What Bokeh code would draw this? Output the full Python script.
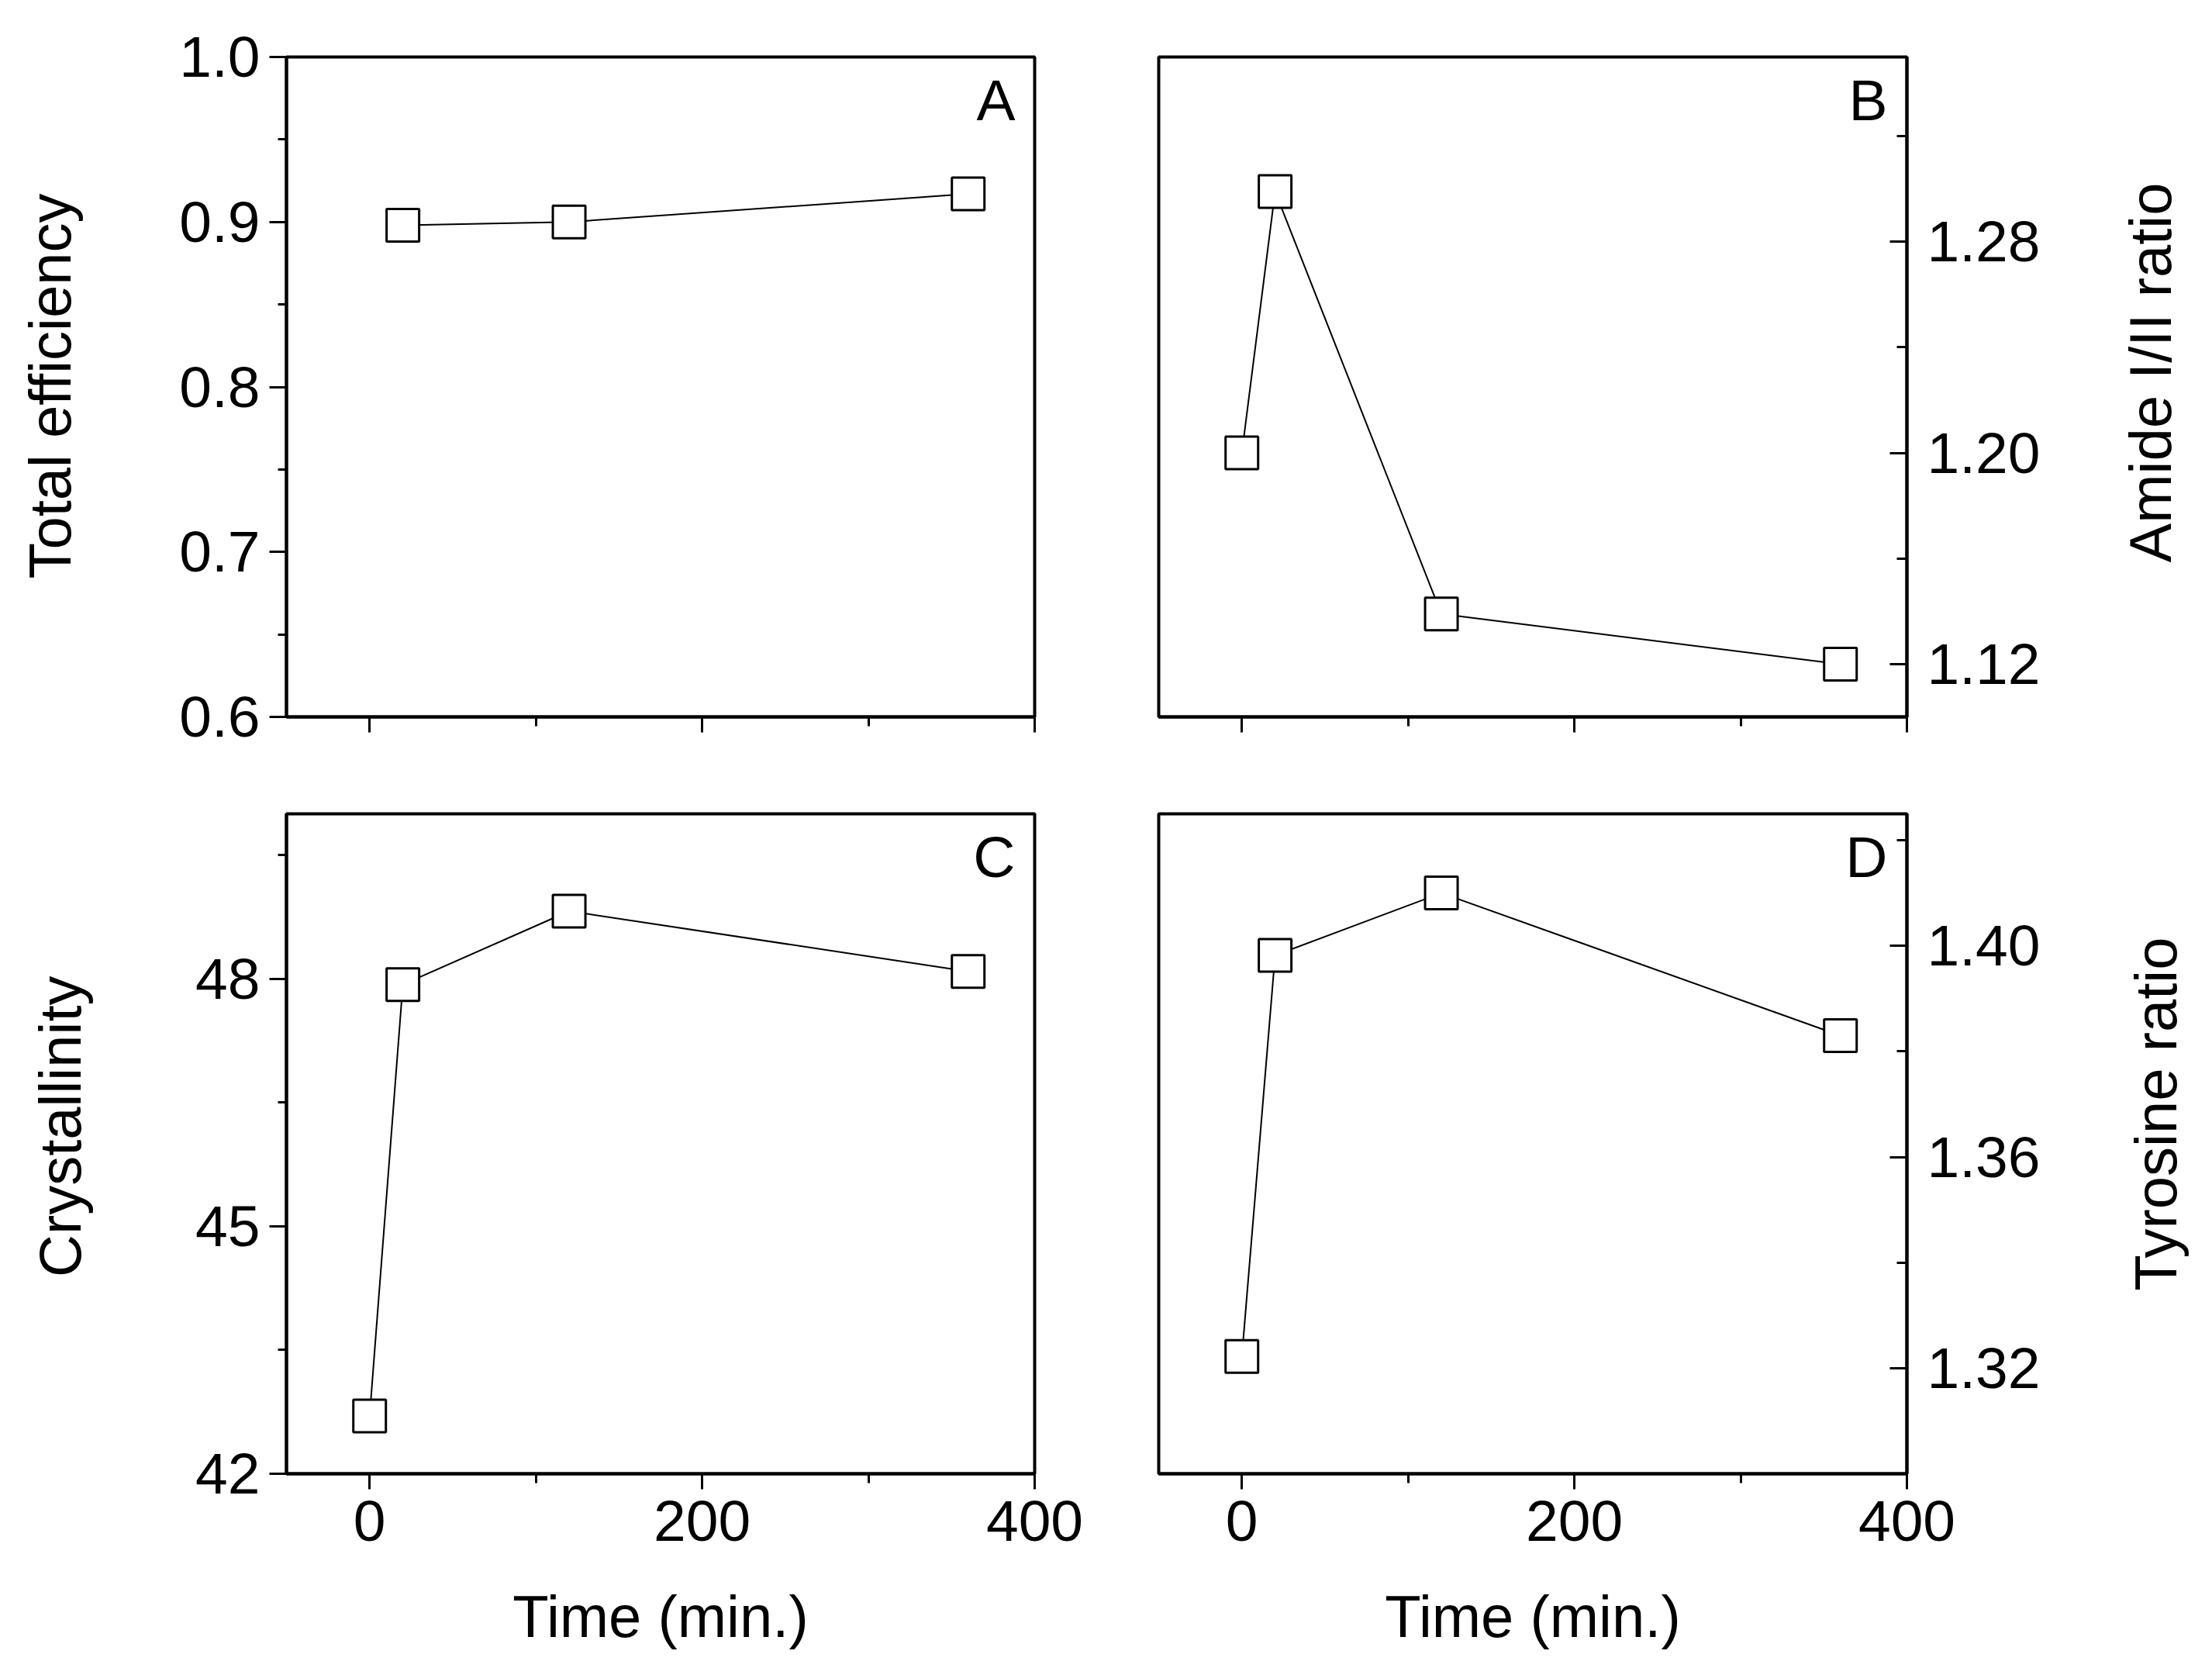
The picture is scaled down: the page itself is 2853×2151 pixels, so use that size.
import math
from bokeh.plotting import figure
from bokeh.layouts import column, row
from bokeh.models import (Range1d, FixedTicker, Label, Title, PrintfTickFormatter,
                          CustomJSTickFormatter)
from bokeh.embed import file_html
from bokeh.resources import INLINE

# ---------------- data ----------------
time_a = [20, 120, 360]
efficiency = [0.898, 0.900, 0.917]

time_bcd = [0, 20, 120, 360]
amide_ratio = [1.200, 1.299, 1.139, 1.120]
crystallinity = [42.70, 47.93, 48.82, 48.09]
tyrosine_ratio = [1.3222, 1.3982, 1.4100, 1.3830]

x_major = [0, 200, 400]
x_minor = [100, 300]
a_major = [0.6, 0.7, 0.8, 0.9, 1.0]
a_minor = [0.65, 0.75, 0.85, 0.95]
b_major = [1.12, 1.20, 1.28]
b_minor = [1.16, 1.24, 1.32]
c_major = [42, 45, 48]
c_minor = [43.5, 46.5, 49.5]
d_major = [1.32, 1.36, 1.40]
d_minor = [1.30, 1.34, 1.38, 1.42]

FONT = "Liberation Sans"
FW, FH = 965, 851
TICK_FS = "75px"
TITLE_FS = "76px"


def make_panel(xs, ys, yr, ymaj, ymin, yfmt, yloc, letter,
               show_x_labels, borders):
    bl, br, bt, bb = borders
    p = figure(frame_width=FW, frame_height=FH,
               x_range=Range1d(-50, 400), y_range=Range1d(*yr),
               y_axis_location=yloc, toolbar_location=None,
               output_backend="svg",
               min_border_left=bl, min_border_right=br,
               min_border_top=bt, min_border_bottom=bb)
    p.background_fill_color = "white"
    p.border_fill_color = "white"
    p.outline_line_color = "black"
    p.outline_line_width = 4
    p.xgrid.visible = False
    p.ygrid.visible = False

    xa = p.xaxis[0]
    xa.ticker = FixedTicker(ticks=x_major, minor_ticks=x_minor)
    xa.axis_line_width = 4
    xa.major_tick_line_width = 3
    xa.minor_tick_line_width = 3
    xa.major_tick_out = 20
    xa.major_tick_in = 0
    xa.minor_tick_out = 12
    xa.minor_tick_in = 0
    xa.major_label_text_font = FONT
    xa.major_label_text_color = "black"
    xa.major_label_text_font_size = TICK_FS
    if show_x_labels:
        xa.formatter = PrintfTickFormatter(format="%d")
        xa.major_label_standoff = 15
        xa.axis_label = "Time (min.)"
        xa.axis_label_text_font = FONT
        xa.axis_label_text_font_size = TITLE_FS
        xa.axis_label_text_font_style = "normal"
        xa.axis_label_text_color = "black"
        xa.axis_label_standoff = 52
    else:
        xa.formatter = CustomJSTickFormatter(code="return ''")
        xa.major_label_standoff = 0

    ya = p.yaxis[0]
    ya.ticker = FixedTicker(ticks=ymaj, minor_ticks=ymin)
    ya.formatter = PrintfTickFormatter(format=yfmt)
    ya.axis_line_width = 4
    ya.major_tick_line_width = 3
    ya.minor_tick_line_width = 3
    if yloc == "left":
        ya.major_tick_out = 22
        ya.major_tick_in = 0
        ya.minor_tick_out = 11
        ya.minor_tick_in = 0
        ya.major_label_standoff = 12
    else:
        ya.major_tick_out = 0
        ya.major_tick_in = 22
        ya.minor_tick_out = 0
        ya.minor_tick_in = 13
        ya.major_label_standoff = 26
    ya.major_label_text_font = FONT
    ya.major_label_text_font_size = TICK_FS
    ya.major_label_text_color = "black"

    p.line(xs, ys, line_color="black", line_width=2)
    p.scatter(xs, ys, marker="square", size=42, fill_color="white",
              line_color="black", line_width=3)

    p.add_layout(Label(x=400, y=yr[1], x_offset=-25, y_offset=-55,
                       text=letter, text_align="right",
                       text_baseline="alphabetic", text_font=FONT,
                       text_font_size="75px", text_color="black"))
    return p


def title_strip(text, left, top, bottom, offset):
    """A 1px-wide empty figure carrying a y title on its left side
    (reads bottom-to-top); its upper end sits `offset` px below the frame top."""
    t = figure(frame_width=1, frame_height=FH,
               x_range=Range1d(0, 1), y_range=Range1d(0, 1),
               x_axis_location=None, y_axis_location=None,
               toolbar_location=None, output_backend="svg",
               min_border_left=left, min_border_right=0,
               min_border_top=top, min_border_bottom=bottom)
    t.outline_line_color = None
    t.background_fill_color = "white"
    t.border_fill_color = "white"
    t.xgrid.visible = False
    t.ygrid.visible = False
    t.add_layout(Title(text=text, align="right", vertical_align="bottom",
                       offset=offset, standoff=10,
                       text_font=FONT, text_font_size=TITLE_FS,
                       text_font_style="normal", text_color="black"), "left")
    return t


tA = title_strip("Total efficiency", 111, 73, 62, 176)
pA = make_panel(time_a, efficiency, (0.6, 1.0), a_major, a_minor, "%.1f",
                "left", "A", False, (257, 80, 73, 62))
pB = make_panel(time_bcd, amide_ratio, (1.10, 1.35), b_major, b_minor, "%.2f",
                "right", "B", False, (80, 182, 73, 62))
tB = title_strip("Amide I/II ratio", 179, 73, 62, 162)

tC = title_strip("Crystallinity", 124, 63, 232, 209)
pC = make_panel(time_bcd, crystallinity, (42, 50), c_major, c_minor, "%d",
                "left", "C", True, (244, 80, 63, 232))
pD = make_panel(time_bcd, tyrosine_ratio, (1.30, 1.425), d_major, d_minor, "%.2f",
                "right", "D", True, (80, 182, 63, 232))
tD = title_strip("Tyrosine ratio", 186, 63, 232, 159)

layout = column(row(tA, pA, pB, tB, spacing=0),
                row(tC, pC, pD, tD, spacing=0), spacing=0)

open("out.html", "w").write(file_html(layout, INLINE))
